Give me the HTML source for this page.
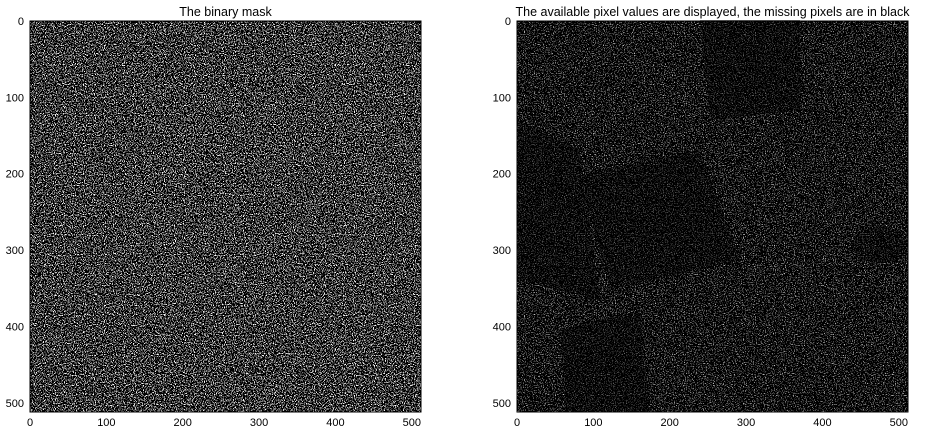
<!DOCTYPE html>
<html><head><meta charset="utf-8"><style>
body{margin:0;background:#fff;width:936px;height:433px;overflow:hidden}
svg{display:block;font-family:"Liberation Sans",sans-serif}
</style></head><body>
<svg width="936" height="433">
<defs>
<filter id="mask" x="0" y="0" width="100%" height="100%">
<feTurbulence type="fractalNoise" baseFrequency="0.9" numOctaves="2" seed="3" result="t"/>
<feColorMatrix in="t" type="matrix" values="0 0 0 1 0  0 0 0 1 0  0 0 0 1 0  0 0 0 0 1" result="g"/>
<feComponentTransfer in="g"><feFuncR type="linear" slope="14" intercept="-7.9"/><feFuncG type="linear" slope="14" intercept="-7.9"/><feFuncB type="linear" slope="14" intercept="-7.9"/></feComponentTransfer>
</filter>
<filter id="masked" x="0" y="0" width="100%" height="100%">
<feTurbulence type="fractalNoise" baseFrequency="0.9" numOctaves="2" seed="7" result="t"/>
<feColorMatrix in="t" type="matrix" values="0 0 0 1 0  0 0 0 1 0  0 0 0 1 0  0 0 0 0 1" result="g"/>
<feComponentTransfer in="g"><feFuncR type="linear" slope="3.5" intercept="-2.1"/><feFuncG type="linear" slope="3.5" intercept="-2.1"/><feFuncB type="linear" slope="3.5" intercept="-2.1"/></feComponentTransfer>
</filter>
</defs>
<g id="p1"></g>
<g id="p2"></g>
<g fill="#000" opacity="0.4">
<polygon points="580,175 700,150 740,260 610,290"/>
<polygon points="700,20 800,20 800,110 710,120"/>
<polygon points="560,330 640,310 650,412 565,412"/>
<ellipse cx="880" cy="245" rx="28" ry="18"/>
<polygon points="517,120 580,150 600,300 517,280"/>
</g>
</svg>
<script>
const ticks=[0,100,200,300,400,500];
const tickLabels=["0","100","200","300","400","500"];
const extent=[0,512];
const NS="http://www.w3.org/2000/svg";
function mk(t,a,p){const e=document.createElementNS(NS,t);for(const k in a)e.setAttribute(k,a[k]);p.appendChild(e);return e;}
function panel(id,x0,title,filt){
  const g=document.getElementById(id),y0=21,w=391,h=391;
  const sx=v=>x0+(v-extent[0])/(extent[1]-extent[0])*w, sy=v=>y0+(v-extent[0])/(extent[1]-extent[0])*h;
  const r=mk('rect',{x:x0,y:y0,width:w,height:h,fill:'#000',filter:'url(#'+filt+')'},g);
  
  
  mk('rect',{x:x0,y:y0,width:w,height:h,fill:'none',stroke:'#000','stroke-width':1},g);
  const t=mk('text',{x:x0+w/2,y:16,'text-anchor':'middle','font-size':12.5,fill:'#000'},g);t.textContent=title;
  
  
  ticks.forEach((v,i)=>{
    const a=mk('text',{x:sx(v),y:426,'text-anchor':'middle','font-size':11,fill:'#000'},g);a.textContent=tickLabels[i];
    
    
    const b=mk('text',{x:x0-6,y:sy(v)+4,'text-anchor':'end','font-size':11,fill:'#000'},g);b.textContent=tickLabels[i];
    
    
  });
}
panel('p1',30,'The binary mask','mask');
panel('p2',517,'The available pixel values are displayed, the missing pixels are in black','masked');
</script>
</body></html>
